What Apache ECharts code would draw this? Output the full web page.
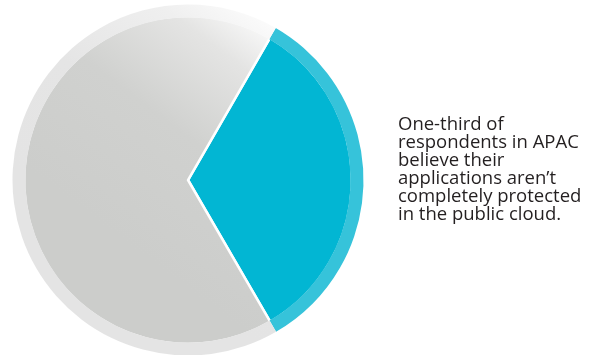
<!DOCTYPE html>
<html>
<head>
<meta charset="utf-8">
<script src="https://cdn.jsdelivr.net/npm/echarts@6/dist/echarts.min.js"></script>
<style>
  html, body { margin: 0; padding: 0; background: #ffffff; }
  #chart { width: 602px; height: 355px; }
</style>
</head>
<body>
<div id="chart"></div>
<script>
// Share of APAC respondents (percent)
const categories = ['Not completely protected', 'Completely protected'];
const shares = [33.3, 66.7];
const captionLines = [
  'One-third of',
  'respondents in APAC',
  'believe their',
  'applications aren\u2019t',
  'completely protected',
  'in the public cloud.'
];

const teal = '#02b6d3';
const tealRing = '#36c3da';

// grey slice fades to white toward its upper-right corner
const greyFill = {
  type: 'linear', x: 1, y: 0, x2: 0.35, y2: 0.65,
  colorStops: [
    { offset: 0, color: '#ffffff' },
    { offset: 0.22, color: '#e4e4e3' },
    { offset: 0.55, color: '#d0d1cf' },
    { offset: 1, color: '#cccdcb' }
  ]
};
const greyRingFill = {
  type: 'linear', x: 1, y: 0, x2: 0.35, y2: 0.65,
  colorStops: [
    { offset: 0, color: '#ffffff' },
    { offset: 0.25, color: '#efefef' },
    { offset: 0.6, color: '#e5e5e5' },
    { offset: 1, color: '#e4e4e4' }
  ]
};

const innerData = categories.map((name, i) => ({
  name, value: shares[i],
  itemStyle: { color: i === 0 ? teal : greyFill }
}));
const ringData = categories.map((name, i) => ({
  name, value: shares[i],
  itemStyle: { color: i === 0 ? tealRing : greyRingFill }
}));

const chart = echarts.init(document.getElementById('chart'), null, { renderer: 'canvas' });
chart.setOption({
  animation: false,
  backgroundColor: '#ffffff',
  title: {
    text: captionLines.join('\n'),
    left: 398,
    top: 116,
    padding: 0,
    textStyle: {
      fontFamily: '"Open Sans", sans-serif',
      fontSize: 18.5,
      fontWeight: 400,
      lineHeight: 18,
      color: '#231f20'
    }
  },
  series: [
    {
      type: 'pie',
      center: [188, 180],
      radius: [0, 164],
      startAngle: 60,
      clockwise: true,
      silent: true,
      label: { show: false },
      labelLine: { show: false },
      itemStyle: { borderColor: '#ffffff', borderWidth: 2.5 },
      data: innerData,
      z: 1
    },
    {
      type: 'pie',
      center: [188, 180],
      radius: [162.5, 175.5],
      startAngle: 60,
      clockwise: true,
      silent: true,
      label: { show: false },
      labelLine: { show: false },
      itemStyle: { borderWidth: 0 },
      data: ringData,
      z: 2
    }
  ]
});
</script>
</body>
</html>
